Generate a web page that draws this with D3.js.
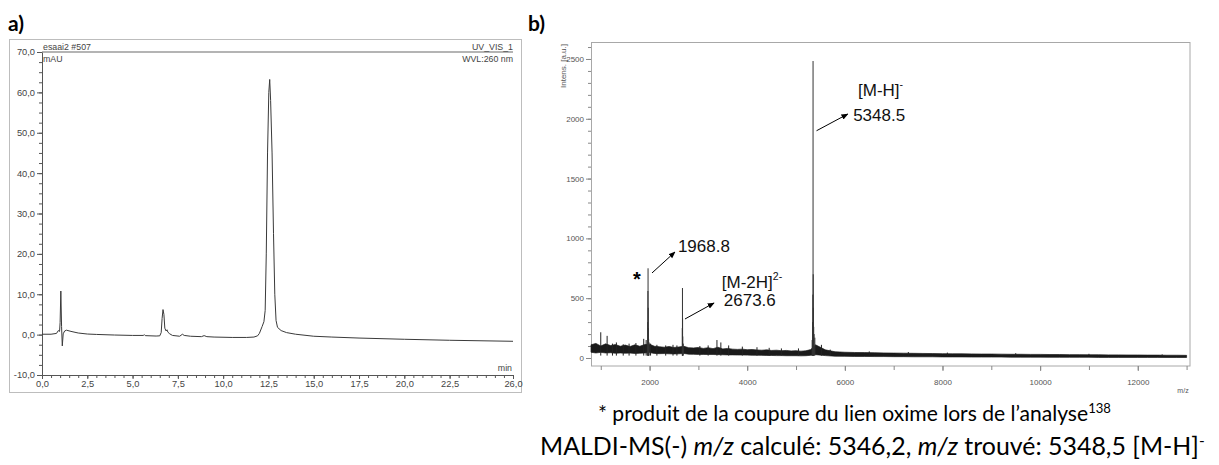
<!DOCTYPE html>
<html><head><meta charset="utf-8">
<script src="https://cdn.jsdelivr.net/npm/d3@7"></script>
<style>body{margin:0;background:#fff}svg{display:block}</style>
</head><body>
<svg id="c" width="1219" height="465"></svg>
<script>
// ---------- Panel a : HPLC chromatogram ----------
const hplcTime = [0.0,0.5,0.8,0.9,0.97,1.0,1.04,1.08,1.12,1.17,1.25,1.35,1.6,2.0,2.5,3.0,4.0,5.0,5.6,5.65,5.7,6.3,6.5,6.58,6.63,6.68,6.73,6.78,6.85,6.9,6.95,7.05,7.2,7.6,7.75,7.85,8.2,8.8,8.95,9.1,9.5,10.5,11.3,11.7,11.9,12.0,12.15,12.25,12.32,12.38,12.45,12.52,12.57,12.62,12.7,12.78,12.85,12.92,13.0,13.2,13.5,14.0,15.0,16.0,17.5,20.0,22.5,26.0];
const hplcAbs  = [0.1,0.1,0.3,1.0,0.8,3.0,10.8,2.0,-2.8,0.2,0.9,1.1,0.8,0.4,0.15,0.05,-0.1,-0.2,-0.2,0.0,-0.25,-0.35,-0.3,0.5,4.0,6.2,5.0,1.6,0.9,1.2,0.6,0.2,-0.2,-0.4,0.1,-0.2,-0.4,-0.5,-0.25,-0.5,-0.6,-0.7,-0.7,-0.6,-0.3,0.3,2.0,3.2,6.0,20.0,45.0,60.0,63.2,58.0,45.0,25.0,10.0,3.5,1.8,1.0,0.5,0.1,-0.4,-0.6,-0.85,-1.15,-1.4,-1.65];
const hplcYTicks = [-10,0,10,20,30,40,50,60,70];
const hplcXTicks = [0,2.5,5,7.5,10,12.5,15,17.5,20,22.5,26];

// ---------- Panel b : MALDI-MS spectrum ----------
const noiseMz = [800,900,1000,1100,1200,1300,1400,1500,1600,1700,1800,1900,2000,2100,2200,2300,2400,2500,2600,2700,2800,2900,3000,3100,3200,3300,3400,3500,3600,3700,3800,3900,4000,4100,4200,4300,4400,4500,4600,4700,4800,4900,5000,5100,5200,5300,5400,5600,5800,6000,6200,6400,6600,6800,7000,7200,7400,7600,7800,8000,8200,8400,8600,8800,9000,9200,9400,9600,9800,10000,10200,10400,10600,10800,11000,11200,11400,11600,11800,12000,12200,12400,12600,12800,13000];
const noiseHi = [110,122,100,118,104,112,98,108,96,110,98,112,115,98,94,90,96,88,92,98,86,84,88,80,86,78,90,76,80,74,72,74,69,71,67,65,68,63,65,61,63,59,61,57,60,70,110,68,52,48,46,45,44,42,41,40,39,38,37,36,35,35,34,33,33,32,31,31,30,30,29,29,28,28,27,27,26,26,25,25,24,24,23,23,22];
const noiseLo = [48,42,47,42,44,40,42,40,41,38,40,42,45,38,36,37,35,34,35,38,32,31,30,30,29,29,28,27,26,26,25,25,24,23,23,22,21,21,20,20,19,19,19,18,19,22,28,20,15,14,13,13,12,12,11,11,10,10,10,9,9,9,8,8,8,8,7,7,7,7,6,6,6,6,6,5,5,5,5,5,5,5,4,4,4];
const spikeMz  = [1000,1130,1240,1320,1460,1580,1720,1880,1930,2020,2150,2330,2480,2560,3030,3200,3380,3460,3620,3900,4200,4450,4700,5050,5520,5700,6500,7300,8100,9500,11000,12500];
const spikeInt = [215,185,120,130,115,120,125,160,150,120,110,105,110,105,100,105,150,130,105,95,90,85,80,80,110,70,55,50,45,40,35,30];
const peakMz  = [1962,1966,1968.8,1972,1975,1980,1990,2670,2673.6,2676,2680,2690,5330,5340,5345,5348.5,5352,5356,5362,5370,5385];
const peakInt = [300,560,750,420,250,160,130,250,585,330,180,120,150,300,530,2483,700,420,260,200,170];
const msYTicks = [0,500,1000,1500,2000,2500];
const msXTicks = [2000,4000,6000,8000,10000,12000];

const svg = d3.select("#c");
const axisFont = "'Liberation Sans', Arial, sans-serif";

// ================= Panel a =================
const ax = d3.scaleLinear().domain([0,26]).range([42,513]);
const ay = d3.scaleLinear().domain([-10,70]).range([375,52]);
const commaFmt = v => d3.format(".1f")(v).replace(".", ",").replace("−","-");

svg.append("text").text("a)").attr("x",8).attr("y",31)
  .attr("font-family","Lato, 'Open Sans', sans-serif").attr("font-weight","bold").attr("font-size",21);

svg.append("rect").attr("x",9.5).attr("y",39.5).attr("width",512).attr("height",353)
  .attr("fill","none").attr("stroke","#bdbdbd");

svg.append("line").attr("x1",ax(0)).attr("x2",ax(26)).attr("y1",52).attr("y2",52)
  .attr("stroke","#b4b4b4").attr("stroke-width",2);

// minor ticks
svg.append("g").attr("transform",`translate(${ax(0)},0)`)
  .call(d3.axisLeft(ay).tickValues(d3.range(-10,70.01,2.5)).tickSize(3).tickFormat(""))
  .call(g=>g.select(".domain").remove()).selectAll("line").attr("stroke","#555");
svg.append("g").attr("transform",`translate(0,${ay(-10)})`)
  .call(d3.axisBottom(ax).tickValues(d3.range(0,26.01,0.5)).tickSize(3).tickFormat(""))
  .call(g=>g.select(".domain").remove()).selectAll("line").attr("stroke","#555");

const ayAxis = svg.append("g").attr("transform",`translate(${ax(0)},0)`)
  .call(d3.axisLeft(ay).tickValues(hplcYTicks).tickSize(5).tickSizeOuter(0).tickPadding(2).tickFormat(commaFmt));
const axAxis = svg.append("g").attr("transform",`translate(0,${ay(-10)})`)
  .call(d3.axisBottom(ax).tickValues(hplcXTicks).tickSize(4).tickSizeOuter(0).tickPadding(1).tickFormat(commaFmt));
[ayAxis,axAxis].forEach(g=>{
  g.select(".domain").attr("stroke","#555");
  g.selectAll("line").attr("stroke","#555");
  g.selectAll("text").attr("font-family",axisFont).attr("font-size",9.3).attr("fill","#444");
});

const smallTxt = (t,x,y,anchor)=>svg.append("text").text(t).attr("x",x).attr("y",y)
  .attr("text-anchor",anchor||"start").attr("font-family",axisFont).attr("font-size",8.8).attr("fill","#444");
smallTxt("esaai2 #507", ax(0)+1, 50);
smallTxt("mAU", ax(0)+1, 62);
smallTxt("UV_VIS_1", ax(26), 50, "end");
smallTxt("WVL:260 nm", ax(26), 62, "end");
smallTxt("min", ax(26)-1, ay(-10)-4, "end");

svg.append("path").datum(d3.zip(hplcTime,hplcAbs))
  .attr("d", d3.line().x(d=>ax(d[0])).y(d=>ay(d[1])))
  .attr("fill","none").attr("stroke","#3a3a3a").attr("stroke-width",1);

// ================= Panel b =================
const bx = d3.scaleLinear().domain([800,13070]).range([591,1190]);
const by = d3.scaleLinear().domain([-67,2642]).range([366,42]);

svg.append("text").text("b)").attr("x",528).attr("y",31)
  .attr("font-family","Lato, 'Open Sans', sans-serif").attr("font-weight","bold").attr("font-size",21);

svg.append("rect").attr("x",591.5).attr("y",42.5).attr("width",598.5).attr("height",323.5)
  .attr("fill","none").attr("stroke","#a8a8a8");

svg.append("g").attr("transform","translate(591,0)")
  .call(d3.axisLeft(by).tickValues(d3.range(0,2601,100)).tickSize(3).tickFormat(""))
  .call(g=>g.select(".domain").remove()).selectAll("line").attr("stroke","#888");
svg.append("g").attr("transform","translate(0,366)")
  .call(d3.axisBottom(bx).tickValues(d3.range(1000,13001,1000)).tickSize(4).tickFormat(""))
  .call(g=>g.select(".domain").remove()).selectAll("line").attr("stroke","#888");

const byAxis = svg.append("g").attr("transform","translate(591,0)")
  .call(d3.axisLeft(by).tickValues(msYTicks).tickSize(5).tickPadding(2).tickFormat(d3.format("d")));
const bxAxis = svg.append("g").attr("transform","translate(0,366)")
  .call(d3.axisBottom(bx).tickValues(msXTicks).tickSize(5).tickPadding(8).tickFormat(d3.format("d")));
[byAxis,bxAxis].forEach(g=>{
  g.select(".domain").remove();
  g.selectAll("line").attr("stroke","#888");
  g.selectAll("text").attr("font-family",axisFont).attr("font-size",8).attr("fill","#555");
});
svg.append("text").text("Intens. [a.u.]").attr("transform","translate(566,66) rotate(-90)")
  .attr("text-anchor","middle").attr("font-family",axisFont).attr("font-size",8).attr("fill","#555");
svg.append("text").text("m/z").attr("x",1183).attr("y",393).attr("text-anchor","middle")
  .attr("font-family",axisFont).attr("font-size",7).attr("fill","#555");

// noise band
const noise = d3.zip(noiseMz,noiseLo,noiseHi);
svg.append("path").datum(noise)
  .attr("d", d3.area().x(d=>bx(d[0])).y0(d=>by(d[1])).y1(d=>by(d[2])))
  .attr("fill","#1a1a1a").attr("stroke","#1a1a1a").attr("stroke-width",0.7);
// small spikes
svg.append("g").selectAll("line").data(d3.zip(spikeMz,spikeInt)).join("line")
  .attr("x1",d=>bx(d[0])).attr("x2",d=>bx(d[0])).attr("y1",by(20)).attr("y2",d=>by(d[1]))
  .attr("stroke","#222").attr("stroke-width",1);
// peaks
svg.append("g").selectAll("line").data(d3.zip(peakMz,peakInt)).join("line")
  .attr("x1",d=>bx(d[0])).attr("x2",d=>bx(d[0])).attr("y1",by(20)).attr("y2",d=>by(d[1]))
  .attr("stroke","#333").attr("stroke-width",1);

// annotations (data units)
const defs = svg.append("defs");
defs.append("marker").attr("id","ah").attr("viewBox","0 0 10 10").attr("refX",9).attr("refY",5)
  .attr("markerWidth",7).attr("markerHeight",7).attr("orient","auto")
  .append("path").attr("d","M0,1 L10,5 L0,9 Z").attr("fill","#000");
const arrows = [
  {m0:5420,i0:1900,m1:6060,i1:2040},
  {m0:2050,i0:711,m1:2520,i1:886},
  {m0:2725,i0:326,m1:3320,i1:460}
];
svg.append("g").selectAll("line").data(arrows).join("line")
  .attr("x1",d=>bx(d.m0)).attr("y1",d=>by(d.i0)).attr("x2",d=>bx(d.m1)).attr("y2",d=>by(d.i1))
  .attr("stroke","#000").attr("stroke-width",1).attr("marker-end","url(#ah)");

const annFont = "'Liberation Sans', Arial, sans-serif";
function ann(mz,inten,parts){
  const t = svg.append("text").attr("x",bx(mz)).attr("y",by(inten)).attr("dy","0.35em")
    .attr("font-family",annFont).attr("font-size",17).attr("fill","#111");
  parts.forEach(p=>{
    if(p.sup) t.append("tspan").text(p.t).attr("font-size","0.62em").attr("dy","-0.75em");
    else t.append("tspan").text(p.t);
  });
}
ann(6270,2240,[{t:"[M-H]"},{t:"-",sup:true}]);
ann(6170,2030,[{t:"5348.5"}]);
ann(2580,936,[{t:"1968.8"}]);
ann(3480,635,[{t:"[M-2H]"},{t:"2-",sup:true}]);
ann(3520,485,[{t:"2673.6"}]);
svg.append("text").text("*").attr("x",bx(1740)).attr("y",by(719)).attr("dy","0.7em")
  .attr("text-anchor","middle").attr("font-family",annFont).attr("font-weight","bold").attr("font-size",20);

// captions
const capFont = "Lato, 'Open Sans', sans-serif";
function caption(x,y,target,parts){
  const t = svg.append("text").attr("x",x).attr("y",y).attr("font-family",capFont).attr("font-size",20).attr("fill","#000");
  parts.forEach(p=>{
    const s = t.append("tspan").text(p.t);
    if(p.it) s.attr("font-style","italic");
    if(p.sup) s.attr("font-size","0.62em").attr("dy","-0.6em");
  });
  const w = t.node().getComputedTextLength();
  t.attr("font-size", 20*target/w);
}
caption(598,421,513,[{t:"* produit de la coupure du lien oxime lors de l’analyse"},{t:"138",sup:true}]);
caption(540,455,665,[{t:"MALDI-MS(-) "},{t:"m/z",it:true},{t:" calculé: 5346,2, "},{t:"m/z",it:true},{t:" trouvé: 5348,5 [M-H]"},{t:"-",sup:true}]);
</script>
</body></html>
